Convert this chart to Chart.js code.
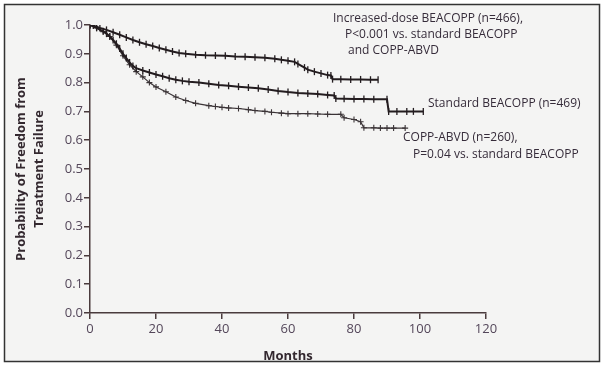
<!DOCTYPE html>
<html>
<head>
<meta charset="utf-8">
<script src="https://cdn.jsdelivr.net/npm/chart.js@4.4.1/dist/chart.umd.min.js"></script>
<style>
  html, body { margin: 0; padding: 0; background: #ffffff; }
  #km { display: block; }
</style>
</head>
<body>
<canvas id="km" width="603" height="365"></canvas>
<script>
// Kaplan-Meier curves (months / probability)
const increasedMonths = [0, 1, 3, 5, 7, 9, 11, 13, 15, 17, 19, 21, 23, 25, 27, 29, 32, 35, 38, 41, 44, 47, 50, 53, 56, 58, 60, 62, 63, 65, 66, 68, 70, 72, 73, 73.5, 76, 79, 82, 85, 87.3];
const increasedValues = [1.0, 0.998, 0.99, 0.983, 0.975, 0.966, 0.957, 0.948, 0.94, 0.933, 0.927, 0.92, 0.914, 0.908, 0.903, 0.9, 0.897, 0.895, 0.894, 0.893, 0.891, 0.89, 0.888, 0.886, 0.883, 0.879, 0.876, 0.872, 0.865, 0.852, 0.845, 0.838, 0.832, 0.826, 0.825, 0.812, 0.812, 0.811, 0.811, 0.81, 0.81];

const standardMonths = [0, 2, 4, 5, 6, 7, 8, 9, 10, 11, 12, 13, 14, 16, 18, 20, 22, 24, 26, 28, 30, 33, 36, 39, 42, 45, 48, 51, 54, 57, 60, 63, 66, 69, 72, 74, 74.5, 77, 80, 83, 86, 90, 90.5, 93, 96, 98, 101];
const standardValues = [1.0, 0.99, 0.978, 0.97, 0.96, 0.948, 0.935, 0.918, 0.9, 0.885, 0.87, 0.858, 0.85, 0.842, 0.835, 0.828, 0.822, 0.815, 0.81, 0.806, 0.803, 0.8, 0.796, 0.792, 0.789, 0.786, 0.783, 0.78, 0.776, 0.771, 0.767, 0.764, 0.762, 0.76, 0.757, 0.755, 0.745, 0.744, 0.743, 0.743, 0.742, 0.742, 0.70, 0.70, 0.70, 0.70, 0.70];

const coppMonths = [0, 2, 4, 6, 8, 10, 12, 14, 16, 18, 20, 23, 26, 29, 32, 36, 38, 40, 42, 45, 48, 50, 53, 55, 58, 60, 63, 66, 69, 72, 76, 77, 80, 82, 83, 86, 88, 90, 92, 95.5];
const coppValues = [1.0, 0.99, 0.977, 0.96, 0.93, 0.893, 0.862, 0.838, 0.82, 0.8, 0.785, 0.768, 0.75, 0.738, 0.728, 0.72, 0.717, 0.714, 0.712, 0.71, 0.706, 0.703, 0.7, 0.697, 0.694, 0.692, 0.692, 0.692, 0.691, 0.69, 0.69, 0.678, 0.672, 0.664, 0.643, 0.643, 0.642, 0.642, 0.642, 0.642];

const xTicks = [0, 20, 40, 60, 80, 100, 120];
const yTicks = [0.0, 0.1, 0.2, 0.3, 0.4, 0.5, 0.6, 0.7, 0.8, 0.9, 1.0];

const toPoints = (xs, ys) => xs.map((m, i) => ({ x: m, y: ys[i] }));

const inkColor = "#231c1f";
const axisColor = "#4a3b3d";
const labelColor = "#54475a";
const textFont = "'Open Sans', 'Liberation Sans', sans-serif";

const frame = {
	id: "frame",
	beforeDraw(chart) {
		const c = chart.ctx;
		c.save();
		c.fillStyle = "#f4f4f3";
		c.fillRect(4, 4, 596, 358);
		c.restore();
	},
	afterDraw(chart) {
		const c = chart.ctx;
		c.save();
		c.strokeStyle = "#333";
		c.lineWidth = 1.5;
		c.strokeRect(4.5, 4.5, 595, 357);

		c.fillStyle = "#362c3a";
		c.font = "12px " + textFont;
		c.textBaseline = "middle";
		c.textAlign = "left";
		c.fillText("Increased-dose BEACOPP (n=466),", 333, 19);
		c.fillText("P<0.001 vs. standard BEACOPP", 345, 35);
		c.fillText("and COPP-ABVD", 348, 51);
		c.fillText("Standard BEACOPP (n=469)", 428, 104);
		c.fillText("COPP-ABVD (n=260),", 403, 138);
		c.fillText("P=0.04 vs. standard BEACOPP", 413, 155);
		c.restore();
	},
};

const censorLine = (data) => ({
	data: data,
	borderColor: inkColor,
	borderWidth: 2,
	pointStyle: "line",
	rotation: 90,
	pointRadius: 3.5,
	pointBorderWidth: 1.3,
	pointBorderColor: inkColor,
});

new Chart(document.getElementById("km"), {
	type: "line",
	data: {
		datasets: [
			Object.assign({ label: "Increased-dose BEACOPP" }, censorLine(toPoints(increasedMonths, increasedValues))),
			Object.assign({ label: "Standard BEACOPP" }, censorLine(toPoints(standardMonths, standardValues))),
			{
				label: "COPP-ABVD",
				data: toPoints(coppMonths, coppValues),
				borderColor: "#3a3336",
				borderWidth: 1.2,
				pointStyle: "cross",
				pointRadius: 3,
				pointBorderWidth: 1.1,
				pointBorderColor: "#3a3336",
			},
		],
	},
	options: {
		responsive: false,
		animation: false,
		devicePixelRatio: 1,
		layout: { padding: { top: 25, right: 117, bottom: 0, left: 0 } },
		plugins: {
			legend: { display: false },
			tooltip: { enabled: false },
		},
		scales: {
			x: {
				type: "linear",
				min: 0,
				max: 120,
				afterBuildTicks: (s) => { s.ticks = xTicks.map((v) => ({ value: v })); },
				afterFit: (s) => { s.height = 52; },
				ticks: { color: labelColor, font: { family: textFont, size: 13 }, padding: 2, maxRotation: 0 },
				grid: { drawOnChartArea: false, drawTicks: true, tickLength: 6, color: axisColor, lineWidth: 1.5 },
				border: { color: axisColor, width: 1.5 },
				title: {
					display: true,
					text: "Months",
					color: "#33282f",
					font: { family: textFont, size: 13, weight: "bold" },
					padding: { top: 0, bottom: 1 },
				},
			},
			y: {
				min: 0,
				max: 1,
				afterBuildTicks: (s) => { s.ticks = yTicks.map((v) => ({ value: v })); },
				afterFit: (s) => { s.width = 90; },
				ticks: {
					color: labelColor,
					font: { family: textFont, size: 13 },
					padding: 1,
					callback: (v) => Number(v).toFixed(1),
				},
				grid: { drawOnChartArea: false, drawTicks: true, tickLength: 6, color: axisColor, lineWidth: 1.5 },
				border: { color: axisColor, width: 1.5 },
				title: {
					display: true,
					text: ["Probability of Freedom from", "Treatment Failure"],
					color: "#33282f",
					font: { family: textFont, size: 13, weight: "bold", lineHeight: 1.35 },
					padding: { top: 13, bottom: 0 },
				},
			},
		},
	},
	plugins: [frame],
});
</script>
</body>
</html>
